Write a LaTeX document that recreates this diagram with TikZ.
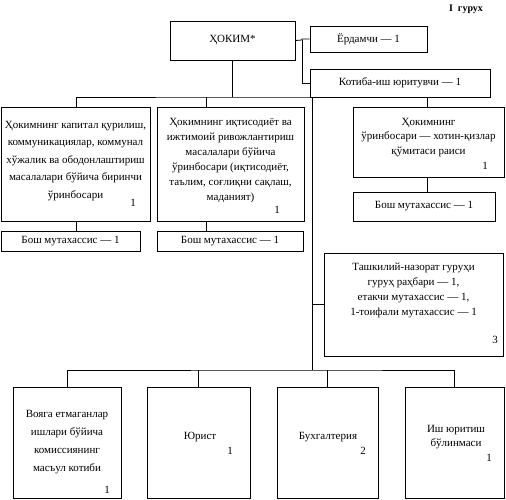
\documentclass[tikz,border=0pt]{standalone}
\usepackage{fontspec}
\setmainfont{Liberation Serif}
\begin{document}
\begin{tikzpicture}[x=1pt,y=-1pt,
  box/.style={draw,line width=0.8pt,inner sep=0pt,minimum width=#1},
  txt/.style={align=center,inner sep=0pt,font=\fontsize{11}{15}\selectfont},
  num/.style={inner sep=0pt,font=\fontsize{11}{13}\selectfont},
  ln/.style={line width=0.8pt}]
\useasboundingbox (0,0) rectangle (506,500);
% title
\node[inner sep=0pt,font=\bfseries\fontsize{10}{12}\selectfont] (title) at (466,9) {I\ \ гурух};
% top
\node[box=125pt,minimum height=39pt] (hokim) at (232.5,40.5) {};
\node[txt] (hokimt) at (232.5,40.5) {ҲОКИМ*};
\node[box=117pt,minimum height=26pt] (erd) at (368.5,39) {};
\node[txt] (erdt) at (368.5,39) {Ёрдамчи — 1};
\node[box=180pt,minimum height=28pt] (kot) at (400,83) {};
\node[txt] (kott) at (400,83) {Котиба-иш юритувчи — 1};
% second row
\node[box=149pt,minimum height=114pt] (A) at (75.5,164) {};
\node[txt,font=\fontsize{11}{17.5}\selectfont] (At) at (75.5,161) {Ҳокимнинг капитал қурилиш,\\коммуникациялар, коммунал\\хўжалик ва ободонлаштириш\\масалалари бўйича биринчи\\ўринбосари};
\node[num] (An) at (133,203) {1};
\node[box=147pt,minimum height=114pt] (B) at (230.5,164) {};
\node[txt] (Bt) at (230.5,161) {Ҳокимнинг иқтисодиёт ва\\ижтимоий ривожлантириш\\масалалари бўйича\\ўринбосари (иқтисодиёт,\\таълим, соғлиқни сақлаш,\\маданият)};
\node[num] (Bn) at (277,210) {1};
\node[box=151pt,minimum height=70pt] (C) at (428.5,142) {};
\node[txt,font=\fontsize{11}{14.5}\selectfont] (Ct) at (428.5,137.5) {Ҳокимнинг\\ўринбосари — хотин-қизлар\\қўмитаси раиси};
\node[num] (Cn) at (485,166) {1};
% bosh
\node[box=139pt,minimum height=20pt] (bA) at (70.5,241) {};
\node[txt] (bAt) at (70.5,241) {Бош мутахассис — 1};
\node[box=146pt,minimum height=20pt] (bB) at (230,241) {};
\node[txt] (bBt) at (230,241) {Бош мутахассис — 1};
\node[box=142pt,minimum height=29pt] (bC) at (424,206.5) {};
\node[txt] (bCt) at (424,206.5) {Бош мутахассис — 1};
% tashkiliy
\node[box=179pt,minimum height=103pt] (T) at (413.5,304.5) {};
\node[txt] (Tt) at (413.5,290.5) {Ташкилий-назорат гуруҳи\\гуруҳ раҳбари — 1,\\етакчи мутахассис — 1,\\1-тоифали мутахассис — 1};
\node[num] (Tn) at (495,340) {3};
% bottom
\node[box=108pt,minimum height=111pt] (D1) at (67,442.5) {};
\node[txt,font=\fontsize{11}{18}\selectfont] (D1t) at (67,442.5) {Вояга етмаганлар\\ишлари бўйича\\комиссиянинг\\масъул котиби};
\node[num] (D1n) at (107,490) {1};
\node[box=103pt,minimum height=111pt] (D2) at (198.5,442.5) {};
\node[txt] (D2t) at (200,437) {Юрист};
\node[num] (D2n) at (230,451) {1};
\node[box=101pt,minimum height=111pt] (D3) at (327.5,442.5) {};
\node[txt] (D3t) at (328,437) {Бухгалтерия};
\node[num] (D3n) at (363,451) {2};
\node[box=99pt,minimum height=111pt] (D4) at (454.5,442.5) {};
\node[txt,font=\fontsize{11}{14}\selectfont] (D4t) at (456,437) {Иш юритиш\\бўлинмаси};
\node[num] (D4n) at (489,458) {1};
% connectors
\coordinate (j) at (302,40);
\draw[ln] (hokim.east) -- (j) |- (erd.west);
\draw[ln] (j) |- (kot.west);
\coordinate (bus) at (233,97);
\draw[ln] (hokim.south) -- (hokim.south |- bus);
\draw[ln] ([xshift=0.5pt]A.north) |- (bus) -| ([xshift=-1.5pt]C.north);
\draw[ln] ([xshift=50pt]B.north west) -- ([xshift=50pt]B.north west |- bus);
\coordinate (v1) at (312,97);
\coordinate (v2) at (312,370);
\draw[ln] (v1) -- (v2);
\draw[ln] (v2 |- T.west) -- (T.west);
\draw[ln] ([xshift=0.5pt]A.south) -- ([xshift=0.5pt]A.south |- bA.north);
\draw[ln] ([xshift=50pt]B.south west) -- ([xshift=50pt]B.south west |- bB.north);
\draw[ln] ([xshift=-1.5pt]C.south) -- ([xshift=-1.5pt]C.south |- bC.north);
\draw[ln] (D1.north) |- (v2) -| (D4.north);
\draw[ln] (D2.north) -- (D2.north |- v2);
\draw[ln] (D3.north) -- (D3.north |- v2);
\end{tikzpicture}
\end{document}
